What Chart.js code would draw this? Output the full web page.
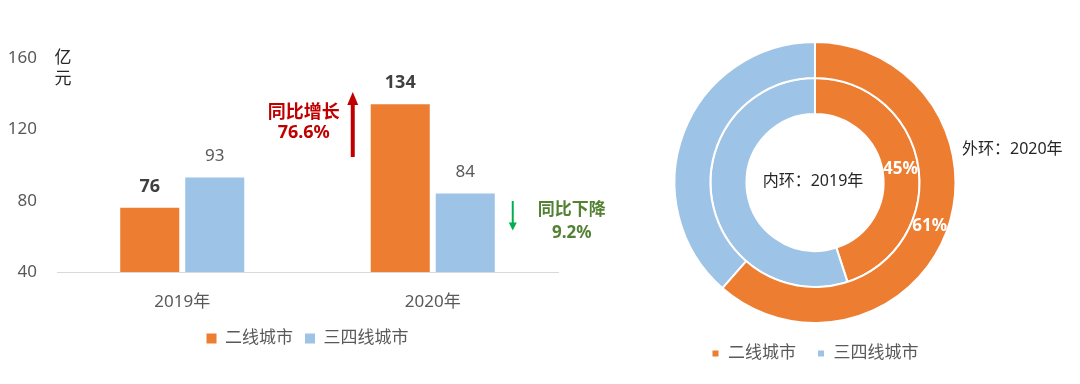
<!DOCTYPE html>
<html><head><meta charset="utf-8">
<script src="https://cdn.jsdelivr.net/npm/chart.js@4.4.0/dist/chart.umd.min.js"></script>
<style>
html,body{margin:0;padding:0;background:#fff;width:1080px;height:384px;overflow:hidden}
#bw{position:absolute;left:0;top:0;width:620px;height:384px}
#dw{position:absolute;left:600px;top:0;width:480px;height:384px}
</style></head><body>
<div id="bw"><canvas id="bar"></canvas></div>
<div id="dw"><canvas id="pie"></canvas></div>
<script>
const categories = ['2019年', '2020年'];
const seriesNames = ['二线城市', '三四线城市'];
const tier2 = [76, 134];
const tier34 = [93, 84];
const yTickValues = [40, 80, 120, 160];
const unitLabel = ['亿', '元'];
const growthLabel = ['同比增长', '76.6%'];
const declineLabel = ['同比下降', '9.2%'];
const outerRingLabel = '外环：2020年';
const innerRingLabel = '内环：2019年';

const ORANGE = '#ED7D31', BLUE = '#9DC3E6';
const FONT = '"Noto Sans", "Noto Sans CJK SC", sans-serif';
const GRAY = '#595959';

function arrow(ctx, x, yFrom, yTo, color, lw, headW, headL) {
  const dir = yTo < yFrom ? -1 : 1;
  ctx.save();
  ctx.strokeStyle = color; ctx.fillStyle = color; ctx.lineWidth = lw;
  ctx.beginPath(); ctx.moveTo(x, yFrom); ctx.lineTo(x, yTo - dir * headL * 0.8); ctx.stroke();
  ctx.beginPath(); ctx.moveTo(x, yTo); ctx.lineTo(x - headW / 2, yTo - dir * headL); ctx.lineTo(x + headW / 2, yTo - dir * headL); ctx.closePath(); ctx.fill();
  ctx.restore();
}

const barLabels = {
  id: 'barLabels',
  afterDatasetsDraw(chart) {
    const ctx = chart.ctx;
    const xs = chart.scales.x, ys = chart.scales.y;
    ctx.save();
    ctx.textAlign = 'center'; ctx.textBaseline = 'middle';
    chart.data.datasets.forEach((ds, di) => {
      chart.getDatasetMeta(di).data.forEach((el, i) => {
        if (di === 0) { ctx.font = 'bold 18px ' + FONT; ctx.fillStyle = '#404040'; }
        else { ctx.font = '17px ' + FONT; ctx.fillStyle = GRAY; }
        ctx.fillText(String(ds.data[i]), el.x, el.y - 21);
      });
    });
    // unit
    ctx.font = '17px ' + FONT; ctx.fillStyle = '#262626';
    const ux = chart.chartArea.left + 6;
    ctx.fillText(unitLabel[0], ux, ys.getPixelForValue(160));
    ctx.fillText(unitLabel[1], ux, ys.getPixelForValue(160) + 21);
    // growth annotation
    const c1 = xs.getPixelForValue(1);
    ctx.fillStyle = '#C00000'; ctx.font = 'bold 18px ' + FONT;
    ctx.fillText(growthLabel[0], c1 - 129, ys.getPixelForValue(129.5));
    ctx.fillText(growthLabel[1], c1 - 129, ys.getPixelForValue(117.8));
    arrow(ctx, c1 - 80, ys.getPixelForValue(104.5), ys.getPixelForValue(141), '#C00000', 4, 11, 13);
    // decline annotation
    ctx.fillStyle = '#548235'; ctx.font = 'bold 17px ' + FONT;
    ctx.fillText(declineLabel[0], c1 + 139, ys.getPixelForValue(74.8));
    ctx.fillText(declineLabel[1], c1 + 139, ys.getPixelForValue(61.8));
    arrow(ctx, c1 + 80, ys.getPixelForValue(79.8), ys.getPixelForValue(63.3), '#00B050', 2, 8, 8);
    ctx.restore();
  }
};

new Chart(document.getElementById('bar'), {
  type: 'bar',
  data: {
    labels: categories,
    datasets: [
      { label: seriesNames[0], data: tier2, backgroundColor: ORANGE },
      { label: seriesNames[1], data: tier34, backgroundColor: BLUE }
    ]
  },
  options: {
    responsive: true, maintainAspectRatio: false, animation: false,
    devicePixelRatio: 1,
    layout: { padding: { left: 0, right: 62, top: 58, bottom: 27 } },
    datasets: { bar: { categoryPercentage: 0.519, barPercentage: 0.908 } },
    scales: {
      x: {
        grid: { display: false, drawTicks: false },
        border: { color: '#D9D9D9', width: 1 },
        ticks: { color: GRAY, font: { size: 17, family: FONT }, padding: 20 },
        afterFit: s => { s.height = 46; }
      },
      y: {
        min: 40, max: 160,
        grid: { display: false, drawTicks: false },
        border: { display: false },
        afterBuildTicks: s => { s.ticks = yTickValues.map(v => ({ value: v })); },
        ticks: { color: GRAY, font: { size: 17, family: FONT }, padding: 20 },
        afterFit: s => { s.width = 57; }
      }
    },
    plugins: {
      legend: {
        position: 'bottom', fullSize: false,
        labels: { boxWidth: 10, boxHeight: 10, padding: 12, color: GRAY, font: { size: 17, family: FONT } }
      },
      tooltip: { enabled: false }
    }
  },
  plugins: [barLabels]
});

const ringText = {
  id: 'ringText',
  afterDatasetsDraw(chart) {
    const ctx = chart.ctx;
    ctx.save();
    ctx.textAlign = 'center'; ctx.textBaseline = 'middle';
    ctx.font = 'bold 17px ' + FONT; ctx.fillStyle = '#fff';
    chart.data.datasets.forEach((ds, di) => {
      const el = chart.getDatasetMeta(di).data[0];
      const total = ds.data.reduce((a, b) => a + b, 0);
      const p = el.tooltipPosition();
      ctx.fillText(Math.round(ds.data[0] / total * 100) + '%', p.x, p.y);
    });
    const arc = chart.getDatasetMeta(0).data[0];
    ctx.font = '16px ' + FONT; ctx.fillStyle = '#262626';
    ctx.fillText(innerRingLabel, arc.x - 2, arc.y - 1);
    ctx.textAlign = 'left';
    ctx.fillText(outerRingLabel, arc.x + 147, arc.y - 33);
    ctx.restore();
  }
};

new Chart(document.getElementById('pie'), {
  type: 'doughnut',
  data: {
    labels: seriesNames,
    datasets: [
      { label: categories[1], data: [tier2[1], tier34[1]], backgroundColor: [ORANGE, BLUE] },
      { label: categories[0], data: [tier2[0], tier34[0]], backgroundColor: [ORANGE, BLUE] }
    ]
  },
  options: {
    responsive: true, maintainAspectRatio: false, animation: false,
    devicePixelRatio: 1,
    cutout: '48.8%',
    elements: { arc: { borderColor: '#fff', borderWidth: 2 } },
    layout: { padding: { left: 0, right: 50, top: 41, bottom: 12 } },
    plugins: {
      legend: {
        position: 'bottom',
        labels: { boxWidth: 8, boxHeight: 8, padding: 21, color: GRAY, font: { size: 17, family: FONT } }
      },
      tooltip: { enabled: false }
    }
  },
  plugins: [ringText]
});
</script>
</body></html>
